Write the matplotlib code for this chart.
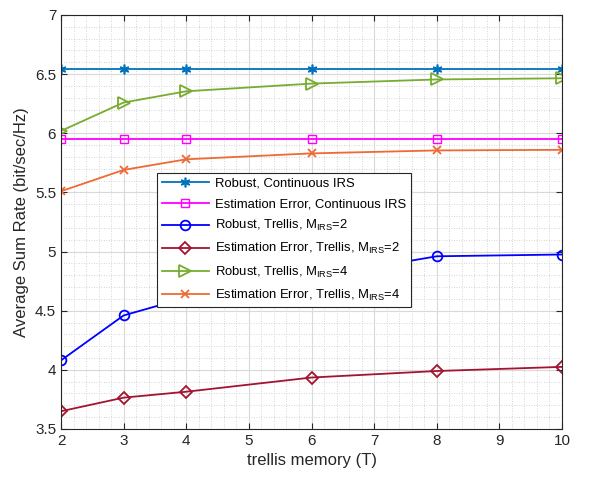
import matplotlib
matplotlib.use("Agg")
import matplotlib.pyplot as plt
from matplotlib.ticker import MultipleLocator

plt.rcParams['font.family'] = ['Liberation Sans', 'DejaVu Sans']
plt.rcParams['mathtext.fontset'] = 'custom'
plt.rcParams['mathtext.rm'] = 'Liberation Sans'
plt.rcParams['mathtext.it'] = 'Liberation Sans:italic'

T = [2, 3, 4, 6, 8, 10]
robust_cont = [6.545, 6.545, 6.545, 6.545, 6.545, 6.545]
est_cont = [5.952, 5.952, 5.952, 5.952, 5.952, 5.952]
robust_m2 = [4.08, 4.46, 4.61, 4.78, 4.96, 4.975]
est_m2 = [3.65, 3.765, 3.815, 3.935, 3.99, 4.025]
robust_m4 = [6.02, 6.26, 6.355, 6.42, 6.455, 6.465]
est_m4 = [5.51, 5.69, 5.78, 5.83, 5.855, 5.86]

labels = [
    'Robust, Continuous IRS',
    'Estimation Error, Continuous IRS',
    r'Robust, Trellis, M$_{\mathregular{IRS}}$=2',
    r'Estimation Error, Trellis, M$_{\mathregular{IRS}}$=2',
    r'Robust, Trellis, M$_{\mathregular{IRS}}$=4',
    r'Estimation Error, Trellis, M$_{\mathregular{IRS}}$=4',
]

fig = plt.figure(figsize=(5.93, 4.82), dpi=100)
ax = fig.add_axes([0.1029, 0.1100, 0.8448, 0.8589])

tc = '#262626'
lw = 1.3
ax.plot(T, robust_cont, color='#0072BD', marker=(6, 2, 0), ms=7, lw=lw, mew=1.2, label=labels[0])
ax.plot(T, est_cont, color='#FF00FF', marker='s', ms=5.5, mfc='none', lw=lw, mew=1.0, label=labels[1])
ax.plot(T, robust_m2, color='#0000FF', marker='o', ms=7, mfc='none', lw=lw, mew=1.3, label=labels[2])
ax.plot(T, est_m2, color='#A2142F', marker='D', ms=6.5, mfc='none', lw=lw, mew=1.3, label=labels[3])
ax.plot(T, robust_m4, color='#77AC30', marker='>', ms=8, mfc='none', lw=lw, mew=1.3, label=labels[4])
ax.plot(T, est_m4, color='#EE6A35', marker='x', ms=5.5, lw=lw, mew=1.3, label=labels[5])

ax.set_xlim(2, 10)
ax.set_ylim(3.5, 7)
ax.xaxis.set_major_locator(MultipleLocator(1))
ax.xaxis.set_minor_locator(MultipleLocator(0.2))
ax.yaxis.set_major_locator(MultipleLocator(0.5))
ax.yaxis.set_minor_locator(MultipleLocator(0.1))
ax.set_yticklabels([f'{v:g}' for v in ax.get_yticks()])

ax.grid(which='major', color='#d9d9d9', lw=0.8, ls='-')
ax.grid(which='minor', color='#c8c8c8', lw=0.6, ls=(0, (1, 2)))
ax.set_axisbelow(True)

ax.tick_params(which='both', direction='in', top=True, right=True, colors=tc, labelsize=11)
ax.tick_params(which='major', length=4)
ax.tick_params(which='minor', length=0)
for s in ax.spines.values():
    s.set_color(tc)
    s.set_linewidth(0.8)

ax.set_xlabel('trellis memory (T)', fontsize=12, color=tc)
ax.set_ylabel('Average Sum Rate (bit/sec/Hz)', fontsize=12, color=tc)

leg = ax.legend(loc='upper left', bbox_to_anchor=(0.1916, 0.618), borderaxespad=0,
                fontsize=9.4, fancybox=False, framealpha=1, edgecolor=tc,
                handlelength=3.6, labelspacing=0.62, borderpad=0.35, handletextpad=0.5)
leg.get_frame().set_linewidth(0.8)
for t in leg.get_texts():
    t.set_color('black')

fig.savefig('out.png', dpi=100)
